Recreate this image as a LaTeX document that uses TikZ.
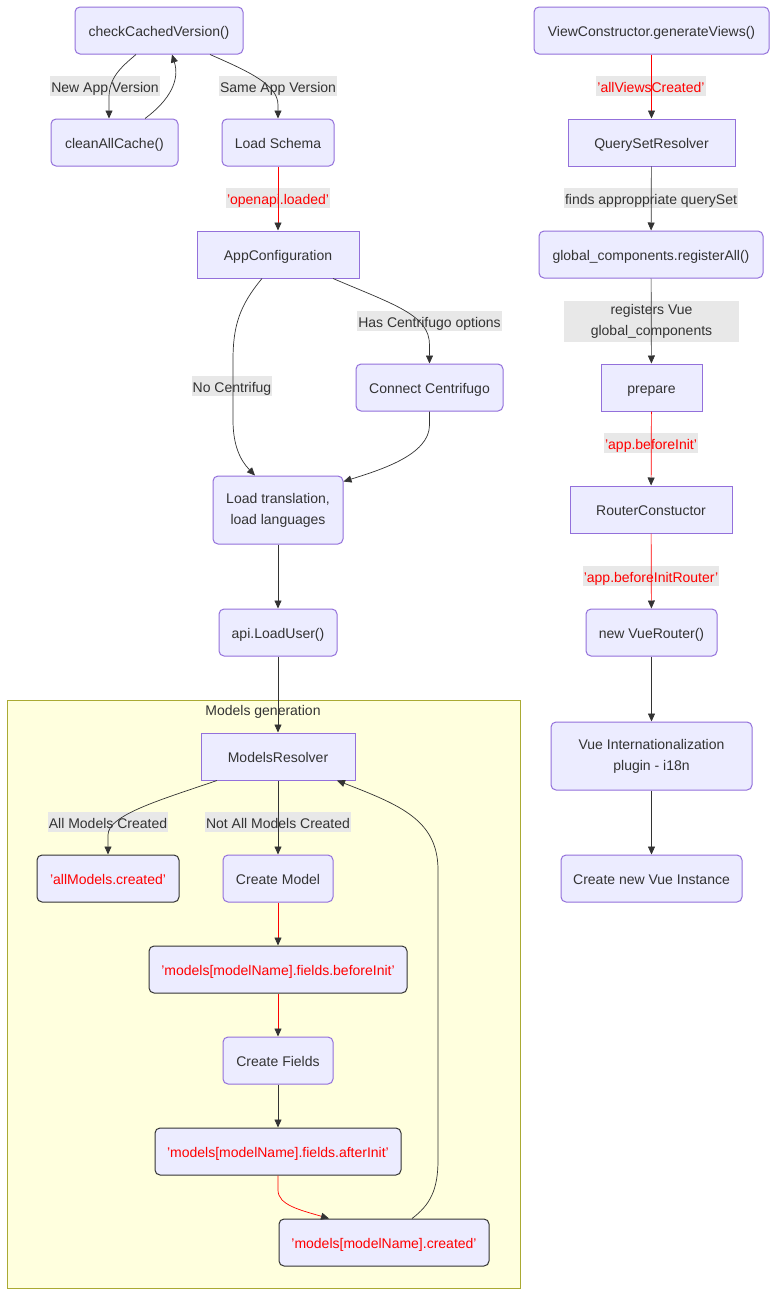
\documentclass[tikz,border=0pt]{standalone}
\usepackage{fontspec}
\setmainfont{Liberation Sans}
\usetikzlibrary{arrows.meta}
\definecolor{nodefill}{HTML}{ECECFF}
\definecolor{nodeline}{HTML}{9370DB}
\definecolor{ink}{HTML}{333333}
\definecolor{lblbg}{HTML}{E8E8E8}
\definecolor{sgfill}{HTML}{FFFFDE}
\definecolor{sgline}{HTML}{AAAA33}
\definecolor{evred}{HTML}{FF0000}
\begin{document}
\begin{tikzpicture}[x=1pt,y=-1pt, font=\fontsize{14}{21}\selectfont,
 every node/.style={text=ink, text height=13pt, text depth=1pt},
 multiline/.style={text height={}, text depth={}},
 box/.style={draw=nodeline, fill=nodefill, line width=1pt, rounded corners=5pt, align=center, inner sep=0pt, minimum height=47pt},
 sqbox/.style={box, rounded corners=0pt},
 evbox/.style={box, draw=ink, text=evred},
 lbl/.style={fill=lblbg, inner xsep=1pt, inner ysep=0pt, minimum height=20pt, align=center},
 evlbl/.style={lbl, text=evred},
 conn/.style={draw=ink, line width=0.7pt, -{Triangle[length=8pt,width=7pt,color=ink]}},
 evconn/.style={conn, draw=evred}]
\useasboundingbox (0,0) rectangle (784,1309);
\fill[white] (0,0) rectangle (784,1309);

% subgraph
\node[draw=sgline, fill=sgfill, line width=1pt, minimum width=513pt, minimum height=588pt, inner sep=0pt] (sg) at (263.5,994) {};
\node (sgtitle) at (263,709) {Models generation};

% edge labels (drawn under edges)
\node[lbl] (lnew) at (105,86) {New App Version};
\node[lbl] (lsame) at (278,86) {Same App Version};
\node[evlbl] (lopen) at (278,198) {'openapi.loaded'};
\node[lbl] (lhas) at (429.5,321) {Has Centrifugo options};
\node[lbl] (lno) at (232,386) {No Centrifug};
\node[lbl] (lall) at (108,822) {All Models Created};
\node[lbl] (lnotall) at (278,822) {Not All Models Created};
\node[evlbl] (lviews) at (651,86) {'allViewsCreated'};
\node[lbl] (lfinds) at (651,198) {finds approppriate querySet};
\node[lbl, multiline, minimum width=175pt, minimum height=41pt] (lreg) at (651.5,321.5) {registers Vue\\global\_components};
\node[evlbl] (lbi) at (651,443) {'app.beforeInit'};
\node[evlbl] (lbir) at (651,576) {'app.beforeInitRouter'};

% left column nodes
\node[box, minimum width=168pt] (chk) at (159,30.5) {checkCachedVersion()};
\node[box, minimum width=127pt] (clean) at (114.5,142.5) {cleanAllCache()};
\node[box, minimum width=112pt] (schema) at (278,142.5) {Load Schema};
\node[sqbox, minimum width=162pt] (appcfg) at (278,254.5) {AppConfiguration};
\node[box, minimum width=147pt] (centri) at (429.5,387.5) {Connect Centrifugo};
\node[box, multiline, minimum width=130pt, minimum height=68pt] (trans) at (278,510) {Load translation,\\load languages};
\node[box, minimum width=118pt] (user) at (278,632.5) {api.LoadUser()};
\node[sqbox, minimum width=154pt] (resolver) at (278,756.5) {ModelsResolver};
\node[evbox, minimum width=142pt] (allcr) at (108,878.5) {'allModels.created'};
\node[box, minimum width=110pt] (cmodel) at (278,878.5) {Create Model};
\node[evbox, minimum width=258pt] (fbefore) at (278,969.5) {'models[modelName].fields.beforeInit'};
\node[box, minimum width=110pt] (cfields) at (278,1060.5) {Create Fields};
\node[evbox, minimum width=246pt] (fafter) at (278,1151.5) {'models[modelName].fields.afterInit'};
\node[evbox, minimum width=210pt] (mcreated) at (384,1242.5) {'models[modelName].created'};

% right column nodes
\node[box, minimum width=235pt] (views) at (651.5,30.5) {ViewConstructor.generateViews()};
\node[sqbox, minimum width=167pt] (qsr) at (651.5,142.5) {QuerySetResolver};
\node[box, minimum width=224pt] (glob) at (651,254.5) {global\_components.registerAll()};
\node[sqbox, minimum width=101pt] (prep) at (651.5,387.5) {prepare};
\node[sqbox, minimum width=162pt] (router) at (651,509.5) {RouterConstuctor};
\node[box, minimum width=131pt] (vuer) at (651.5,632.5) {new VueRouter()};
\node[box, multiline, minimum width=201pt, minimum height=68pt] (i18n) at (651.5,756) {Vue Internationalization\\plugin - i18n};
\node[box, minimum width=181pt] (vinst) at (651.5,878.5) {Create new Vue Instance};

% left edges
\draw[conn] ([xshift=-23pt]chk.south) .. controls (120,68) and (109,78) .. (109,98) -- ([xshift=-5.5pt]clean.north);
\draw[conn] ([xshift=30.5pt]clean.north) .. controls (170,100) and (180,80) .. ([xshift=13pt]chk.south);
\draw[conn] ([xshift=51pt]chk.south) .. controls (250,72) and (278,85) .. (278,105) -- (schema.north);
\draw[evconn] (schema) -- (appcfg);
\draw[conn] ([xshift=-16pt]appcfg.south) .. controls (240,305) and (233,325) .. (233,360) -- (233,420) .. controls (233,445) and (240,460) .. ([xshift=-23pt]trans.north);
\draw[conn] ([xshift=55pt]appcfg.south) .. controls (395,305) and (429.5,315) .. (429.5,345) -- (centri.north);
\draw[conn] (centri.south) -- (429.5,425) .. controls (429.5,455) and (380,470) .. ([yshift=-6pt]trans.north east);
\draw[conn] (trans) -- (user);
\draw[conn] (user) -- (resolver);
\draw[conn] ([xshift=-61pt]resolver.south) .. controls (160,800) and (108,815) .. (108,835) -- (allcr.north);
\draw[conn] (resolver) -- (cmodel);
\draw[evconn] (cmodel) -- (fbefore);
\draw[evconn] (fbefore) -- (cfields);
\draw[conn] (cfields) -- (fafter);
\draw[evconn] (fafter.south) -- (278,1190) .. controls (278,1205) and (300,1210) .. ([xshift=-55pt]mcreated.north);
\draw[conn] ([xshift=28pt]mcreated.north) .. controls (430,1205) and (438,1190) .. (438,1160) -- (438,870) .. controls (438,820) and (400,805) .. ([xshift=59pt]resolver.south);

% right edges
\draw[evconn] (views) -- (qsr);
\draw[conn] (qsr) -- (glob);
\draw[conn] (glob) -- (prep);
\draw[evconn] (prep) -- (router);
\draw[evconn] (router) -- (vuer);
\draw[conn] (vuer) -- (i18n);
\draw[conn] (i18n) -- (vinst);
\end{tikzpicture}
\end{document}
